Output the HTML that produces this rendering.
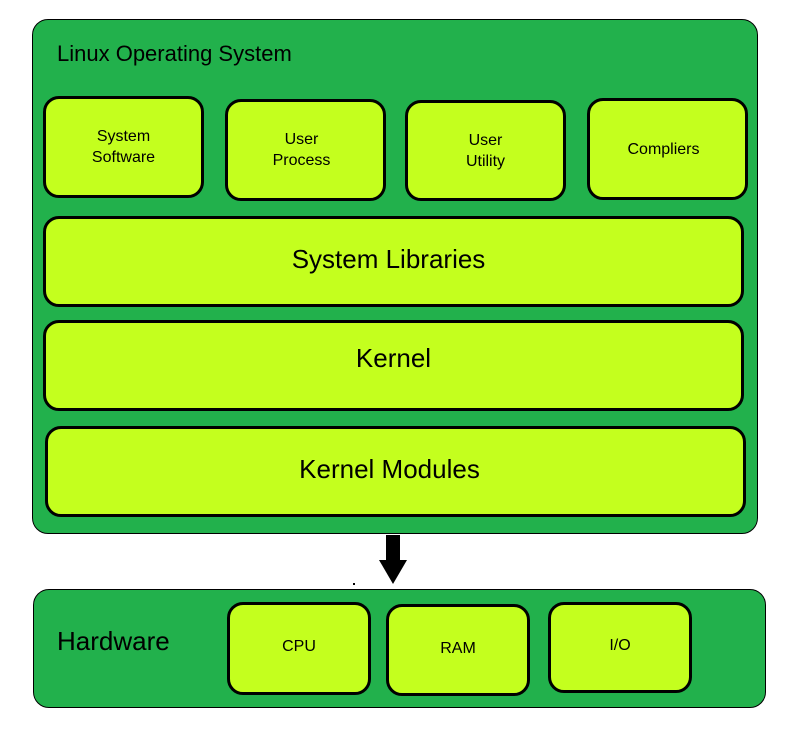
<!DOCTYPE html><html><head><style>
body{margin:0;width:797px;height:730px;background:#fff;position:relative;font-family:"Liberation Sans",sans-serif;overflow:hidden}
.g{position:absolute;background:#22B14C;border:1px solid #000;border-radius:16px;box-sizing:border-box}
.b{position:absolute;background:#C4FF1E;border:3px solid #000;border-radius:16px;box-sizing:border-box;display:flex;align-items:center;justify-content:center;text-align:center;color:#000}
.s{font-size:16px;line-height:21px}
.l{font-size:26px}
.t{position:absolute;color:#000}
</style></head><body>
<div class="g" style="left:32px;top:19px;width:726px;height:515px"></div>
<div class="t" style="left:57px;top:41px;font-size:22px">Linux Operating System</div>
<div class="b s" style="left:43px;top:96px;width:161px;height:102px">System<br>Software</div>
<div class="b s" style="left:225px;top:99px;width:161px;height:102px;padding-right:8px">User<br>Process</div>
<div class="b s" style="left:405px;top:100px;width:161px;height:101px">User<br>Utility</div>
<div class="b s" style="left:587px;top:98px;width:161px;height:102px;padding-right:8px">Compliers</div>
<div class="b l" style="left:43px;top:216px;width:701px;height:91px;padding-right:10px;padding-bottom:4px">System Libraries</div>
<div class="b l" style="left:43px;top:320px;width:701px;height:91px;padding-bottom:14px">Kernel</div>
<div class="b l" style="left:45px;top:426px;width:701px;height:91px;padding-right:12px;padding-bottom:4px">Kernel Modules</div>
<svg style="position:absolute;left:0;top:0" width="797" height="730"><rect x="386" y="535" width="14" height="26" fill="#000"/><polygon points="379,560 407,560 393,584" fill="#000"/><rect x="353" y="583" width="2" height="2" fill="#000"/></svg>
<div class="g" style="left:33px;top:589px;width:733px;height:119px"></div>
<div class="t" style="left:57px;top:626px;font-size:26px">Hardware</div>
<div class="b s" style="left:227px;top:602px;width:144px;height:93px;padding-bottom:4px">CPU</div>
<div class="b s" style="left:386px;top:604px;width:144px;height:92px;padding-bottom:4px">RAM</div>
<div class="b s" style="left:548px;top:602px;width:144px;height:91px;padding-bottom:4px">I/O</div>
</body></html>
